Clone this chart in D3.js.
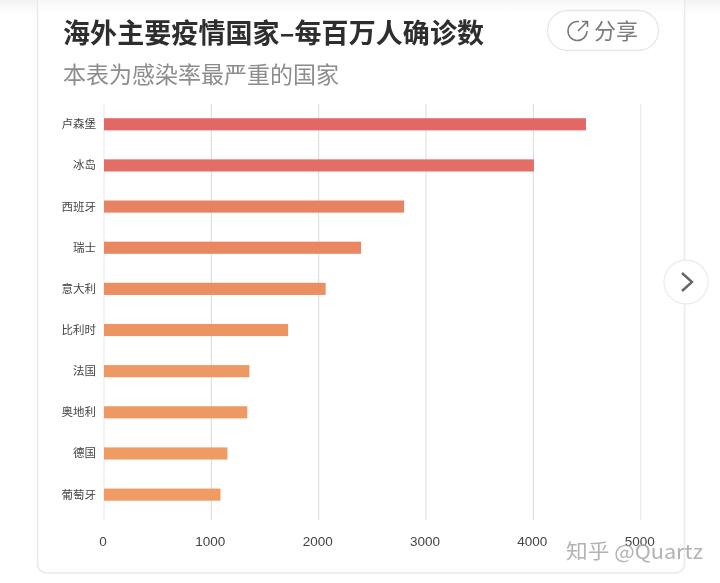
<!DOCTYPE html>
<html><head><meta charset="utf-8">
<script src="https://cdn.jsdelivr.net/npm/d3@7/dist/d3.min.js"></script>
<style>html,body{margin:0;padding:0;background:#fff}svg{display:block}</style>
</head><body><svg id="c" width="720" height="583"></svg>
<script>
const categories=["卢森堡","冰岛","西班牙","瑞士","意大利","比利时","法国","奥地利","德国","葡萄牙"];
const values=[4490,4005,2796,2395,2065,1715,1355,1335,1150,1085];
const barColors=["#e26866","#e26e65","#e68362","#e88762","#eb8f62","#ec9462","#ee9863","#ee9963","#ef9b64","#ef9b64"];
const xTicks=[0,1000,2000,3000,4000,5000];
const title="海外主要疫情国家–每百万人确诊数";
const subtitle="本表为感染率最严重的国家";
const shareLabel="分享";
const watermark="知乎 @Quartz";

const cjk='"Noto Sans CJK SC","Noto Sans",sans-serif';
const svg=d3.select("#c");
const defs=svg.append("defs");
const topFade=defs.append("linearGradient").attr("id","topFade").attr("x1",0).attr("x2",0).attr("y1",0).attr("y2",1);
topFade.append("stop").attr("offset",0).attr("stop-color","#f2f2f2");
topFade.append("stop").attr("offset",1).attr("stop-color","#ffffff");
defs.append("filter").attr("id","soft").append("feGaussianBlur").attr("stdDeviation",0.4);

svg.append("rect").attr("width",720).attr("height",14).attr("fill","url(#topFade)");
svg.append("rect").attr("x",37.5).attr("y",-20).attr("width",647).attr("height",593)
  .attr("rx",9).attr("fill","#fff").attr("stroke","#eaeaea").attr("stroke-width",1.5);
svg.append("rect").attr("x",38.5).attr("y",0).attr("width",645).attr("height",14).attr("fill","url(#topFade)").attr("opacity",.6);

const root=svg.append("g").attr("filter","url(#soft)");
root.append("text").attr("x",63).attr("y",43).attr("font-family",cjk).attr("font-weight",700)
  .attr("font-size",27).attr("fill","#2e2e2e").attr("textLength",421).text(title);
root.append("text").attr("x",63).attr("y",82.5).attr("font-family",cjk).attr("font-size",23)
  .attr("fill","#8c8c8c").text(subtitle);

// share button
root.append("rect").attr("x",547.5).attr("y",10.5).attr("width",111).attr("height",40).attr("rx",20)
  .attr("fill","#fff").attr("stroke","#e6e6e6").attr("stroke-width",1.3);
const arc=d3.arc()({innerRadius:9.5,outerRadius:9.5,startAngle:0.5*Math.PI,endAngle:2.05*Math.PI});
root.append("path").attr("transform","translate(577.5,31)").attr("d",arc).attr("fill","none").attr("stroke","#777").attr("stroke-width",1.5);
root.append("path").attr("d","M578 31 L587 22 M582 21.5 L587.5 21.5 L587.5 27").attr("fill","none").attr("stroke","#777").attr("stroke-width",1.5);
root.append("text").attr("x",594).attr("y",39).attr("font-family",cjk).attr("font-size",22).attr("fill","#7d7d7d").text(shareLabel);

// scales
const x=d3.scaleLinear().domain([0,5000]).range([104,640.7]);
const y=d3.scaleBand().domain(categories).range([103.7,515.2]).paddingInner(0.705).paddingOuter(0.3525);

root.append("g").selectAll("line").data(xTicks).join("line")
  .attr("x1",d=>x(d)).attr("x2",d=>x(d)).attr("y1",104).attr("y2",520)
  .attr("stroke",(d,i)=>i==0||i==5?"#e4e4e4":"#d6d6d6").attr("stroke-width",.9);

root.append("g").selectAll("rect").data(values).join("rect")
  .attr("x",x(0)).attr("y",(d,i)=>y(categories[i])).attr("height",y.bandwidth())
  .attr("width",d=>x(d)-x(0)).attr("fill",(d,i)=>barColors[i]);

root.append("g").selectAll("text").data(categories).join("text")
  .attr("x",96).attr("y",d=>y(d)+y.bandwidth()/2+4).attr("text-anchor","end")
  .attr("font-family",cjk).attr("font-size",11.5).attr("fill","#444").text(d=>d);

root.append("g").selectAll("text").data(xTicks).join("text")
  .attr("x",d=>x(d)-1).attr("y",546).attr("text-anchor","middle")
  .attr("font-family",'"Liberation Sans",Arial,sans-serif').attr("font-size",13.5).attr("fill","#444").text(d=>d);

// next button
root.append("circle").attr("cx",686).attr("cy",282).attr("r",22).attr("fill","#fff").attr("stroke","#ececec").attr("stroke-width",1.3);
root.append("path").attr("d","M682 273 L692 282 L682 291").attr("fill","none").attr("stroke","#666").attr("stroke-width",2.4);

// watermark
root.append("text").attr("x",566).attr("y",559).attr("font-family",cjk).attr("font-size",20).attr("fill","#a6a6a6").attr("fill-opacity",.85).attr("textLength",137).attr("lengthAdjust","spacingAndGlyphs").text(watermark);
</script></body></html>
